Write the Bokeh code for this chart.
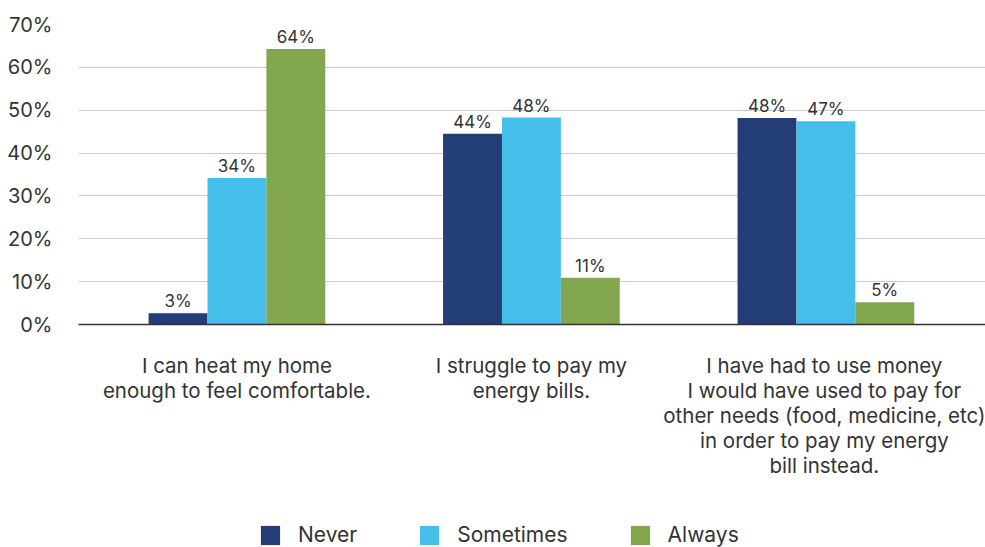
from bokeh.plotting import figure
from bokeh.models import (Range1d, FixedTicker, PrintfTickFormatter, Legend, LegendItem)
from bokeh.layouts import column
from bokeh.core.properties import value
from bokeh.embed import file_html
from bokeh.resources import INLINE

# ---- data ----
categories = [
    "I can heat my home\nenough to feel comfortable.",
    "I struggle to pay my\nenergy bills.",
    "I have had to use money\nI would have used to pay for\nother needs (food, medicine, etc)\nin order to pay my energy\nbill instead.",
]
series_names = ["Never", "Sometimes", "Always"]
never = [2.6, 44.5, 48.2]
sometimes = [34.2, 48.3, 47.4]
always = [64.3, 10.9, 5.2]
never_labels = ["3%", "44%", "48%"]
sometimes_labels = ["34%", "48%", "47%"]
always_labels = ["64%", "11%", "5%"]
y_ticks = [0, 10, 20, 30, 40, 50, 60, 70]

colors = ["#233D76", "#45BFEA", "#83A74E"]
FONT = "Inter"
TXT = "#333333"
W = 985

p = figure(width=W, height=490, output_backend="svg", toolbar_location=None,
           x_range=Range1d(-0.538, 2.542), y_range=Range1d(0, 70),
           min_border_left=78, min_border_right=0, min_border_top=24,
           min_border_bottom=166)
p.outline_line_color = None
p.background_fill_color = "white"
p.border_fill_color = "white"

bar_w = 0.2
offsets = [-bar_w, 0.0, bar_w]
values = [never, sometimes, always]
labels = [never_labels, sometimes_labels, always_labels]
for k in range(3):
    xs = [i + offsets[k] for i in range(len(categories))]
    p.vbar(x=xs, top=values[k], width=bar_w, color=colors[k], line_color=None)
    p.text(x=xs, y=values[k], text=labels[k], text_align="center",
           text_baseline="bottom", y_offset=-2, text_color=TXT,
           text_font_size="17px", text_font=value(FONT))

# axes
p.xaxis.ticker = FixedTicker(ticks=list(range(len(categories))))
p.xaxis.major_label_overrides = {i: c for i, c in enumerate(categories)}
p.xaxis.major_tick_line_color = None
p.xaxis.minor_tick_line_color = None
p.xaxis.axis_line_color = "#333333"
p.xaxis.axis_line_width = 1.5
p.xaxis.major_label_text_font = FONT
p.xaxis.major_label_text_font_size = "20.5px"
p.xaxis.major_label_text_color = TXT
p.xaxis.major_label_text_line_height = 1.0
p.xaxis.major_label_standoff = 22

p.yaxis.ticker = FixedTicker(ticks=y_ticks)
p.yaxis.formatter = PrintfTickFormatter(format="%d%%")
p.yaxis.axis_line_color = None
p.yaxis.major_tick_line_color = None
p.yaxis.minor_tick_line_color = None
p.yaxis.major_label_text_font = FONT
p.yaxis.major_label_text_font_size = "20px"
p.yaxis.major_label_text_color = TXT
p.yaxis.major_label_standoff = 20

p.xgrid.grid_line_color = None
p.ygrid.grid_line_color = "#cccccc"
p.ygrid.grid_line_width = 1.2

# ---- legend strip (same series, drawn out of view; only the legend shows) ----
lg = figure(width=W, height=57, output_backend="svg", toolbar_location=None,
            x_range=p.x_range, y_range=Range1d(1000, 1001),
            x_axis_type=None, y_axis_type=None,
            min_border_left=78, min_border_right=0, min_border_top=0, min_border_bottom=0)
lg.outline_line_color = None
lg.xgrid.grid_line_color = None
lg.ygrid.grid_line_color = None
items = []
for k in range(3):
    xs = [i + offsets[k] for i in range(len(categories))]
    r = lg.vbar(x=xs, top=values[k], width=bar_w, color=colors[k], line_color=None)
    items.append(LegendItem(label=series_names[k], renderers=[r]))
legend = Legend(items=items, orientation="horizontal", location=(180, 0),
                glyph_width=24, glyph_height=24, label_standoff=16, spacing=60,
                padding=0, margin=0, border_line_color=None, background_fill_alpha=0,
                label_text_font=FONT, label_text_font_size="21px", label_text_color=TXT)
lg.add_layout(legend, "center")

layout = column(p, lg, spacing=0)
open("out.html", "w").write(file_html(layout, INLINE))
